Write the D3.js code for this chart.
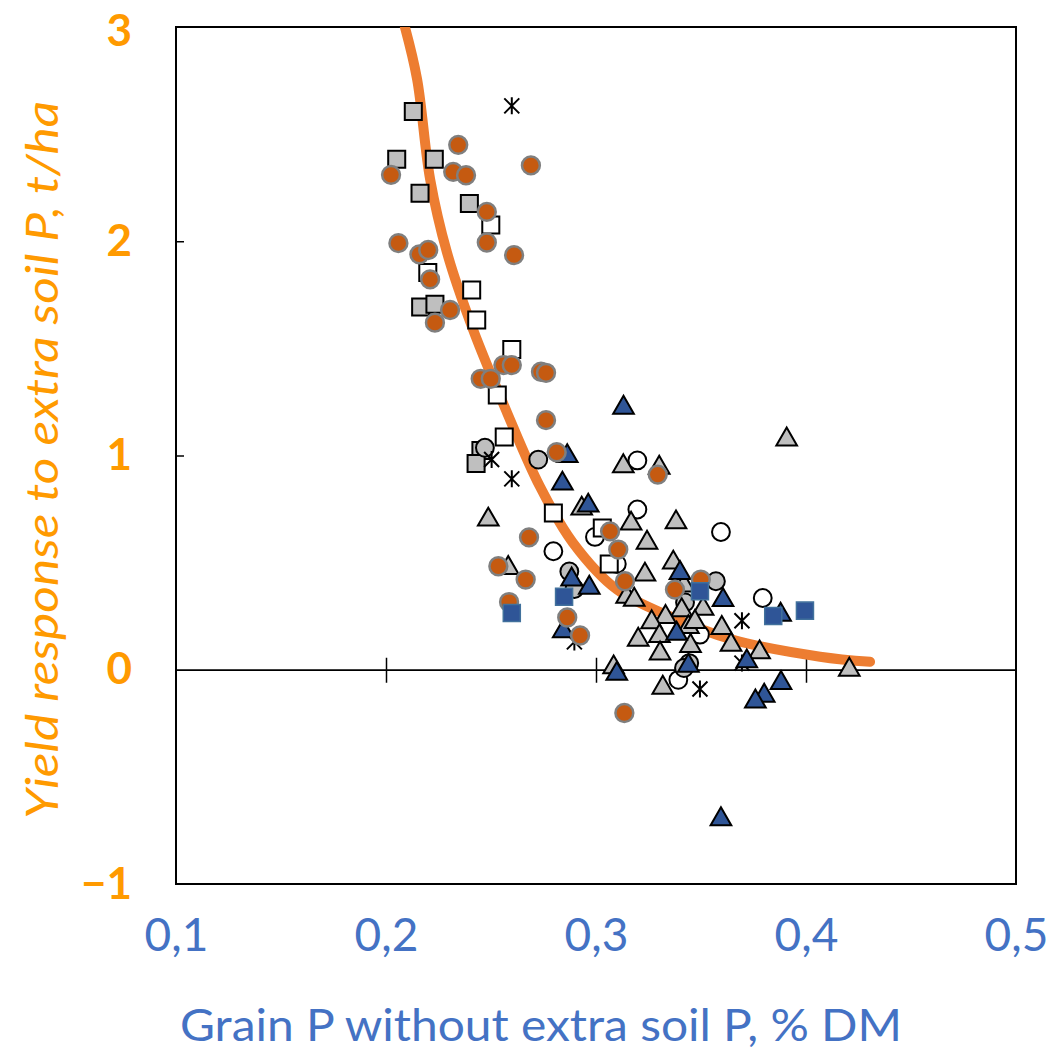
<!DOCTYPE html>
<html>
<head>
<meta charset="utf-8">
<script src="https://cdn.jsdelivr.net/npm/d3@7"></script>
<style>
  body { margin: 0; background: #fff; }
  text { font-family: Lato, "Open Sans", sans-serif; }
</style>
</head>
<body>
<div id="chart"></div>
<script>
// values: [grain P %DM, yield response t/ha]
var orangeCircles = [
  [0.2344, 2.450], [0.2024, 2.310], [0.2320, 2.324], [0.2381, 2.308], [0.2690, 2.354],
  [0.2480, 2.137], [0.2059, 1.991], [0.2159, 1.939], [0.2201, 1.959], [0.2480, 1.994],
  [0.2610, 1.935], [0.2210, 1.822], [0.2305, 1.679], [0.2233, 1.620], [0.2559, 1.422],
  [0.2599, 1.422], [0.2451, 1.358], [0.2499, 1.358], [0.2738, 1.391], [0.2762, 1.386],
  [0.2762, 1.165], [0.2813, 1.015], [0.3294, 0.911], [0.2681, 0.618], [0.3067, 0.646],
  [0.3106, 0.561], [0.2535, 0.483], [0.2665, 0.421], [0.2586, 0.316], [0.2863, 0.244],
  [0.2924, 0.160], [0.3138, 0.413], [0.3376, 0.374], [0.3499, 0.421], [0.3135, -0.202]
];
var graySquares = [
  [0.2130, 2.606], [0.2051, 2.383], [0.2230, 2.383], [0.2162, 2.224], [0.2397, 2.176],
  [0.2165, 1.693], [0.2233, 1.706], [0.2452, 1.023], [0.2429, 0.963]
];
var whiteSquares = [
  [0.2499, 2.076], [0.2199, 1.854], [0.2408, 1.772], [0.2432, 1.632], [0.2599, 1.495],
  [0.2530, 1.282], [0.2563, 1.086], [0.2797, 0.732], [0.3030, 0.662], [0.3063, 0.494]
];
var grayCircles = [
  [0.2471, 1.036], [0.2725, 0.981], [0.2873, 0.459], [0.2897, 0.377], [0.3571, 0.413],
  [0.3424, 0.314], [0.3444, 0.031], [0.3419, 0.008]
];
var whiteCircles = [
  [0.3197, 0.977], [0.3197, 0.748], [0.3595, 0.643], [0.2995, 0.620], [0.2797, 0.553],
  [0.3099, 0.494], [0.3794, 0.335], [0.3495, 0.164], [0.3392, -0.047]
];
var grayTriangles = [
  [0.3908, 1.075], [0.3130, 0.950], [0.3301, 0.943], [0.2487, 0.701], [0.2932, 0.752],
  [0.3167, 0.682], [0.3381, 0.688], [0.3243, 0.593], [0.2582, 0.475], [0.3368, 0.500],
  [0.3233, 0.444], [0.3146, 0.341], [0.3182, 0.327], [0.3408, 0.278], [0.3510, 0.284],
  [0.3331, 0.246], [0.3265, 0.222], [0.3440, 0.199], [0.3471, 0.223], [0.3599, 0.195],
  [0.3302, 0.157], [0.3201, 0.140], [0.3450, 0.111], [0.3643, 0.117], [0.3305, 0.076],
  [0.3779, 0.081], [0.3084, 0.011], [0.3318, -0.084], [0.4206, 0.000], [0.3419, 0.393]
];
var blueTriangles = [
  [0.3131, 1.223], [0.2863, 0.997], [0.2840, 0.869], [0.2963, 0.766], [0.2884, 0.421],
  [0.2968, 0.383], [0.2844, 0.179], [0.3099, -0.019], [0.3400, 0.452], [0.3605, 0.325],
  [0.3384, 0.168], [0.3440, 0.019], [0.3718, 0.039], [0.3879, 0.257], [0.3881, -0.062],
  [0.3801, -0.121], [0.3759, -0.148], [0.3595, -0.698]
];
var blueSquares = [
  [0.2599, 0.265], [0.2848, 0.341], [0.3495, 0.366], [0.3844, 0.251], [0.3995, 0.276]
];
var asterisks = [
  [0.2599, 2.632], [0.2503, 0.981], [0.2599, 0.891], [0.2897, 0.130], [0.3695, 0.229],
  [0.3695, 0.031], [0.3495, -0.090]
];
// fitted response curve
var curveX = [0.2090, 0.2148, 0.2210, 0.2290, 0.2414, 0.2576, 0.2733, 0.2890, 0.3100, 0.3338, 0.3652, 0.4067, 0.4305];
var curveY = [3.000, 2.757, 2.290, 1.949, 1.589, 1.201, 0.855, 0.593, 0.374, 0.255, 0.140, 0.061, 0.037];

var xTicks = [0.1, 0.2, 0.3, 0.4, 0.5];
var yTicks = [-1, 0, 1, 2, 3];

var width = 1051, height = 1052;
var orange = "#FF9A00", blue = "#4472C4";

var svg = d3.select("#chart").append("svg")
    .attr("width", width)
    .attr("height", height)
    .style("background", "#fff");

var x = d3.scaleLinear().domain([0.1, 0.5]).range([176, 1016]);
var y = d3.scaleLinear().domain([-1, 3]).range([884, 27]);

svg.append("clipPath").attr("id", "plotclip")
  .append("rect")
    .attr("x", x(0.1)).attr("y", y(3))
    .attr("width", x(0.5) - x(0.1)).attr("height", y(-1) - y(3));

// plot frame
svg.append("rect")
    .attr("x", x(0.1)).attr("y", y(3))
    .attr("width", x(0.5) - x(0.1)).attr("height", y(-1) - y(3))
    .attr("fill", "none").attr("stroke", "#000").attr("stroke-width", 2);

// tick labels
var xAxis = svg.append("g")
    .attr("transform", "translate(0," + y(-1) + ")")
    .call(d3.axisBottom(x).tickValues(xTicks).tickSize(0).tickPadding(34)
        .tickFormat(function (d) { return d3.format(".1f")(d).replace(".", ","); }));
xAxis.select(".domain").remove();
xAxis.selectAll("text").attr("fill", blue).style("font-size", "46px").style("font-family", "Lato");

var yAxis = svg.append("g")
    .attr("transform", "translate(" + x(0.1) + ",0)")
    .call(d3.axisLeft(y).tickValues(yTicks).tickSize(0).tickPadding(44)
        .tickFormat(d3.format("d")));
yAxis.select(".domain").remove();
yAxis.selectAll("text").attr("fill", orange).style("font-size", "44px")
    .style("font-weight", "bold").style("font-family", "Lato");
// keep the top label inside the picture
yAxis.selectAll(".tick").filter(function (d) { return d === 3; })
    .select("text").attr("dy", "0.42em");

// small inner ticks on the left edge
var yInner = svg.append("g")
    .attr("transform", "translate(" + x(0.1) + ",0)")
    .call(d3.axisRight(y).tickValues([1, 2]).tickSize(8).tickFormat(""));
yInner.select(".domain").remove();
yInner.selectAll("line").attr("stroke-width", 1.5);

// zero line with crossing ticks
var zeroDown = svg.append("g")
    .attr("transform", "translate(0," + y(0) + ")")
    .call(d3.axisBottom(x).tickValues([0.2, 0.3, 0.4]).tickSizeInner(13).tickSizeOuter(0).tickFormat(""));
var zeroUp = svg.append("g")
    .attr("transform", "translate(0," + y(0) + ")")
    .call(d3.axisTop(x).tickValues([0.2, 0.3, 0.4]).tickSizeInner(12).tickSizeOuter(0).tickFormat(""));
svg.selectAll(".domain").attr("stroke-width", 1.5);
zeroDown.selectAll("line").attr("stroke-width", 1.5);
zeroUp.selectAll("line").attr("stroke-width", 1.5);

// axis titles
svg.append("text")
    .attr("transform", "translate(58," + 460 + ") rotate(-90)")
    .attr("text-anchor", "middle")
    .attr("fill", orange)
    .style("font-size", "44px")
    .style("font-style", "italic")
    .attr("textLength", 718)
    .attr("lengthAdjust", "spacingAndGlyphs")
    .text("Yield response to extra soil P, t/ha");

svg.append("text")
    .attr("x", 541).attr("y", 1041)
    .attr("text-anchor", "middle")
    .attr("fill", blue)
    .style("font-size", "44px")
    .attr("textLength", 722)
    .attr("lengthAdjust", "spacingAndGlyphs")
    .text("Grain P without extra soil P, % DM");

// response curve
var curvePts = curveX.map(function (d, i) { return [d, curveY[i]]; });
svg.append("path")
    .datum(curvePts)
    .attr("clip-path", "url(#plotclip)")
    .attr("fill", "none")
    .attr("stroke", "#ED7D31")
    .attr("stroke-width", 10)
    .attr("stroke-linecap", "round")
    .attr("d", d3.line()
        .x(function (d) { return x(d[0]); })
        .y(function (d) { return y(d[1]); })
        .curve(d3.curveCatmullRom));

// markers
var plot = svg.append("g");

function drawSymbols(data, type, size, fill, stroke, sw) {
    plot.append("g").selectAll("path")
        .data(data)
        .enter().append("path")
        .attr("transform", function (d) { return "translate(" + x(d[0]) + "," + y(d[1]) + ")"; })
        .attr("d", d3.symbol().type(type).size(size))
        .attr("fill", fill)
        .attr("stroke", stroke)
        .attr("stroke-width", sw);
}

drawSymbols(whiteCircles, d3.symbolCircle, 250, "#fff", "#000", 2);
drawSymbols(whiteSquares, d3.symbolSquare, 290, "#fff", "#000", 2);
drawSymbols(graySquares, d3.symbolSquare, 290, "#BFBFBF", "#000", 2);
drawSymbols(grayCircles, d3.symbolCircle, 250, "#BFBFBF", "#000", 2);

// asterisk markers
plot.append("g").selectAll("path")
    .data(asterisks)
    .enter().append("path")
    .attr("transform", function (d) { return "translate(" + x(d[0]) + "," + y(d[1]) + ")"; })
    .attr("d", "M0,-8.5L0,8.5M-7.5,-7.5L7.5,7.5M-7.5,7.5L7.5,-7.5")
    .attr("fill", "none")
    .attr("stroke", "#000")
    .attr("stroke-width", 2);

drawSymbols(grayTriangles, d3.symbolTriangle, 185, "#BFBFBF", "#000", 2);
drawSymbols(blueTriangles, d3.symbolTriangle, 185, "#2F5597", "#000", 2);
drawSymbols(orangeCircles, d3.symbolCircle, 250, "#C55A11", "#7F7F7F", 2.5);
drawSymbols(blueSquares, d3.symbolSquare, 290, "#2F5597", "#41719C", 1.5);
</script>
</body>
</html>
